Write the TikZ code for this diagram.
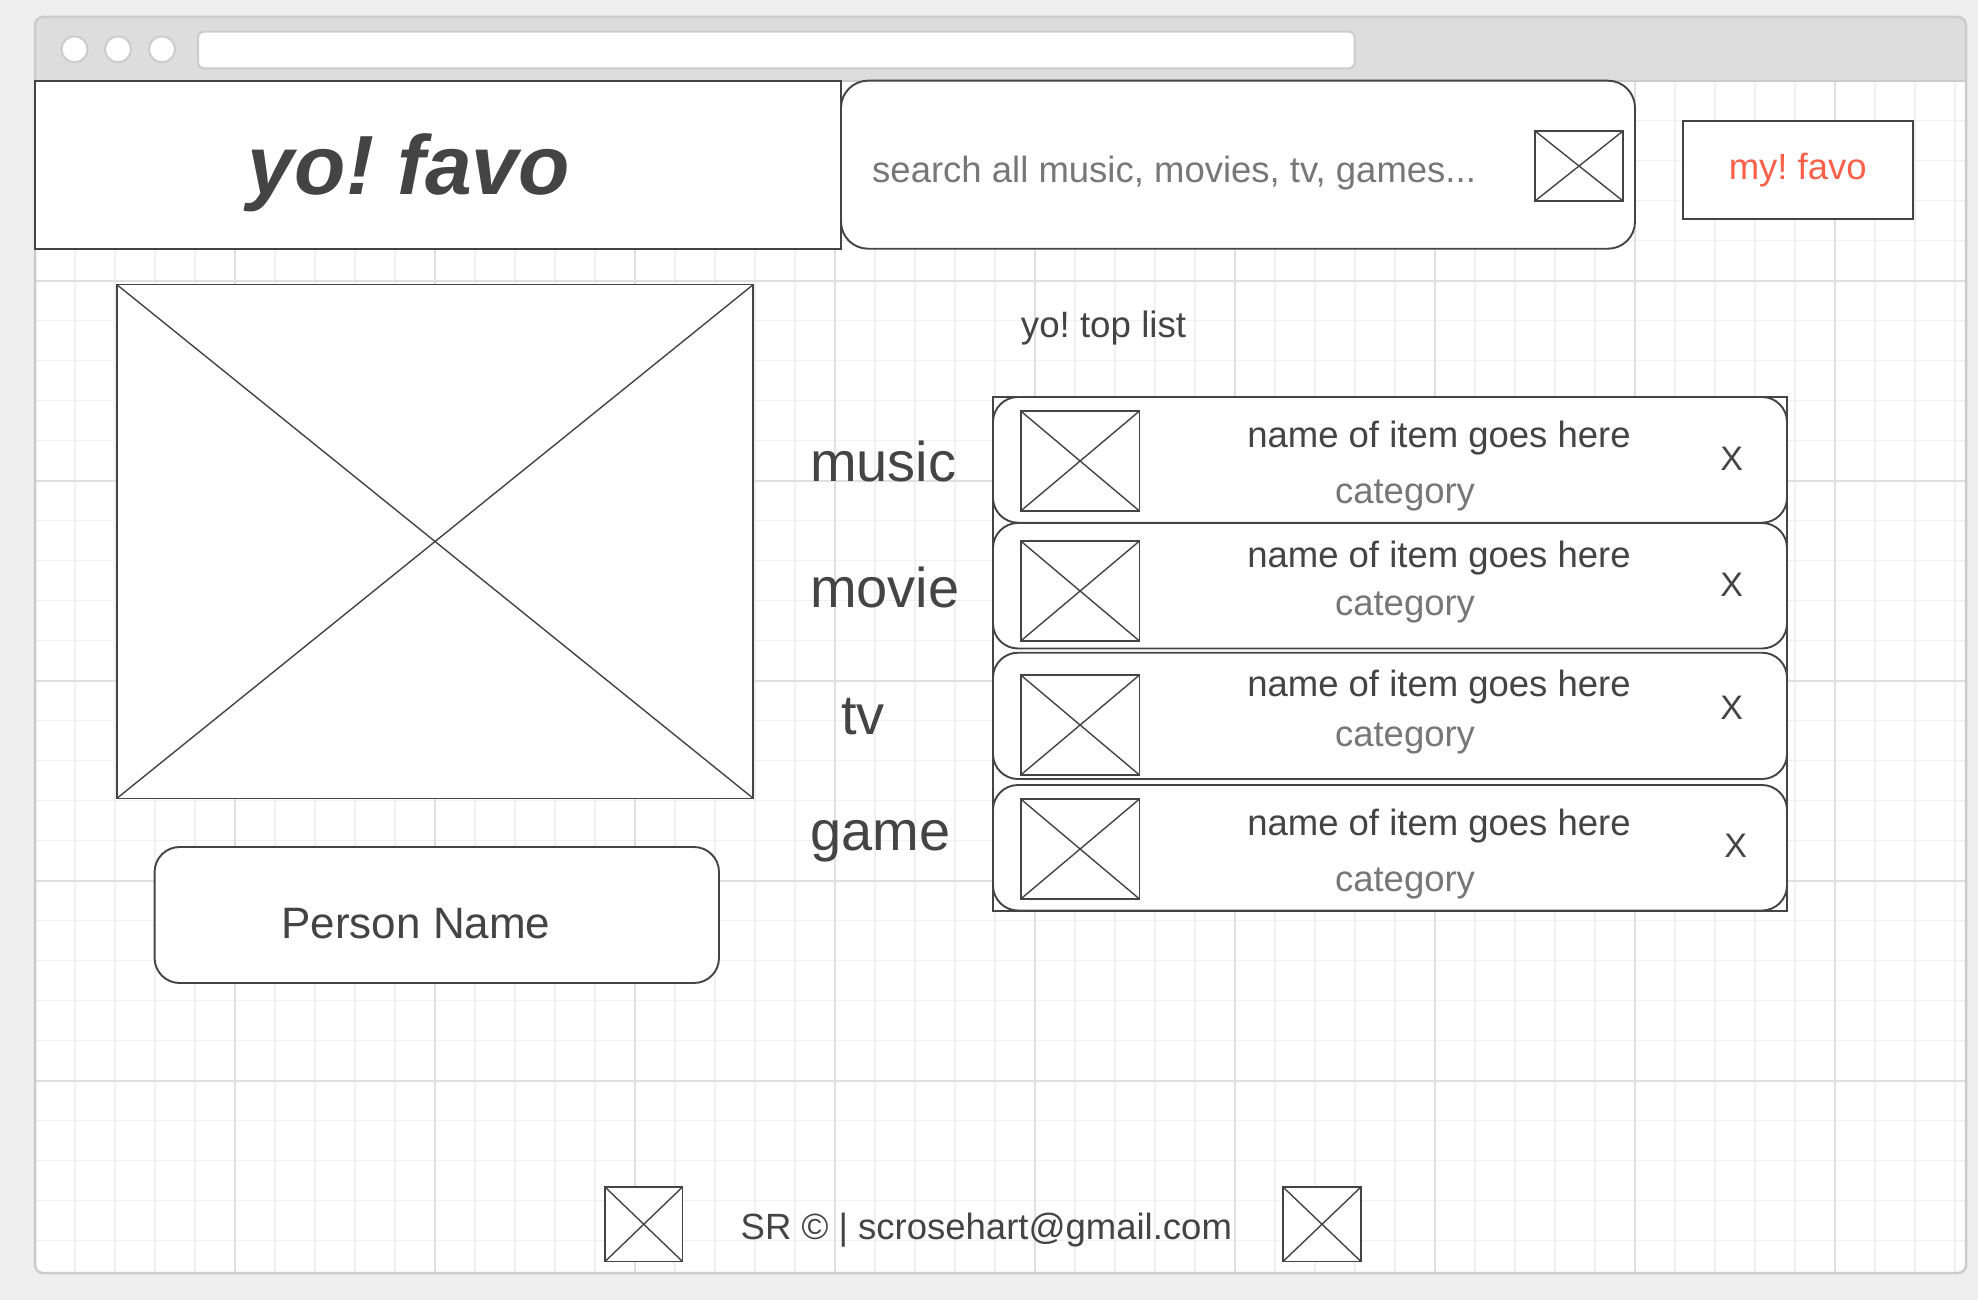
\documentclass[tikz,border=0pt]{standalone}
\usepackage{fontspec}
\setmainfont{Liberation Sans}
\usetikzlibrary{fit}
\definecolor{ink}{HTML}{444444}
\definecolor{greytext}{HTML}{777777}
\definecolor{favored}{RGB}{250,96,74}
\definecolor{pagebg}{HTML}{EEEEEE}
\definecolor{barfill}{HTML}{DDDDDD}
\definecolor{frame}{HTML}{CCCCCC}
\definecolor{gminor}{HTML}{F0F0F0}
\definecolor{gmajor}{HTML}{E0E0E0}
\newcommand\fsz[1]{\fontsize{#1}{#1}\selectfont}
\frenchspacing
\tikzset{
  box/.style={draw=ink, line width=1.9pt, fill=white, inner sep=0pt},
  rbox/.style={box, rounded corners=25pt},
  imgbox/.style={box, path picture={\draw[ink, line width=1.4pt]
      (path picture bounding box.north west) -- (path picture bounding box.south east)
      (path picture bounding box.south west) -- (path picture bounding box.north east);}},
  txt/.style={inner sep=0pt, text=ink},
  body/.style={txt, font=\fsz{36.5}},
  label/.style={txt, anchor=base west, font=\fsz{56}},
  gridminor/.style={draw=gminor, line width=1.5pt},
  gridmajor/.style={draw=gmajor, line width=2pt},
  chrome/.style={draw=frame, line width=2pt, fill=white},
}
\begin{document}
\begin{tikzpicture}[x=1pt,y=-1pt]
\useasboundingbox (0,0) rectangle (1978,1300);
\fill[pagebg] (0,0) rectangle (1978,1300);
% window
\fill[white, rounded corners=8pt] (35,17) rectangle (1966,1273);
\begin{scope}
  \clip (35,80.7) rectangle (1966,1273);
  \foreach \i in {1,...,48} \draw[gridminor] ({35+40*\i},80.7) -- ({35+40*\i},1273);
  \foreach \i in {1,...,29} \draw[gridminor] (35,{80.7+40*\i}) -- (1966,{80.7+40*\i});
  \foreach \i in {1,...,9} \draw[gridmajor] ({35+200*\i},80.7) -- ({35+200*\i},1273);
  \foreach \i in {1,...,5} \draw[gridmajor] (35,{80.7+200*\i}) -- (1966,{80.7+200*\i});
\end{scope}
\fill[barfill] (35,80.7) {[rounded corners=8pt] -- (35,17) -- (1966,17)} -- (1966,80.7) -- cycle;
\draw[frame, line width=2pt] (35,80.7) -- (1966,80.7);
\draw[frame, line width=2.5pt, rounded corners=8pt] (35,17) rectangle (1966,1273);
\foreach \cx [count=\k] in {74.5,118,162}
  \draw[chrome] (\cx,49.3) circle[radius=13];
\node[chrome, rounded corners=6pt, inner sep=0pt, fit={(198,31.7) (1354.7,68.3)}] (address) {};

% header
\node[box, fit={(35,80.7) (841,248.7)}] (header) {};
\node[txt, anchor=base, font=\fsz{84}\bfseries\itshape] (title) at (409,194.3) {yo! favo};
\node[box, rounded corners=27pt, fit={(841,80.7) (1635,248.7)}] (searchbox) {};
\node[txt, anchor=base west, text=greytext, font=\fsz{36.5}] (searchtxt) at (872,182.7) {search all music, movies, tv, games...};
\node[imgbox, fit={(1535,131) (1623,201)}] (searchicon) {};
\node[box, fit={(1682.7,120.7) (1913,219)}] (mybtn) {};
\node[body, anchor=base, text=favored] (mytxt) at (1797.7,180) {my! favo};

% profile
\node[imgbox, fit={(116.7,284.5) (753.4,798.5)}] (photo) {};
\node[rbox, fit={(154.6,847) (719,983)}] (personbox) {};
\node[txt, anchor=base, font=\fsz{44}] (person) at (416,938) {Person Name};

% labels
\node[body, anchor=base west, font=\fsz{36.7}] (toplist) at (1020.7,337.6) {yo! top list};
\node[label] (lmusic) at (810,481) {music};
\node[label] (lmovie) at (810,607.5) {movie};
\node[label] (ltv) at (841,734.3) {tv};
\node[label] (lgame) at (810,850) {game};

% list
\node[box, fit={(993,396.7) (1787.3,911)}] (list) {};
\node[rbox, fit={(993,397) (1787,522.7)}] (row1) {};
\node[rbox, fit={(993,523) (1787,648.5)}] (row2) {};
\node[rbox, fit={(993,652.7) (1787,779)}] (row3) {};
\node[rbox, fit={(993,785) (1787,910.5)}] (row4) {};
\node[imgbox, fit={(1020.7,411) (1139.5,511)}] (img1) {};
\node[imgbox, fit={(1020.7,541) (1139.5,641)}] (img2) {};
\node[imgbox, fit={(1020.7,675) (1139.5,775)}] (img3) {};
\node[imgbox, fit={(1020.7,799) (1139.5,899)}] (img4) {};
\node[body, anchor=base] (name1) at (1439,447.2) {name of item goes here};
\node[body, anchor=base] (name2) at (1439,567.7) {name of item goes here};
\node[body, anchor=base] (name3) at (1439,696.8) {name of item goes here};
\node[body, anchor=base] (name4) at (1439,835.3) {name of item goes here};
\node[body, anchor=base, text=greytext] (cat1) at (1405,503.3) {category};
\node[body, anchor=base, text=greytext] (cat2) at (1405,615.9) {category};
\node[body, anchor=base, text=greytext] (cat3) at (1405,746.8) {category};
\node[body, anchor=base, text=greytext] (cat4) at (1405,891.4) {category};
\node[txt, anchor=base, font=\fsz{34}] (x1) at (1731.7,470) {X};
\node[txt, anchor=base, font=\fsz{34}] (x2) at (1731.7,596) {X};
\node[txt, anchor=base, font=\fsz{34}] (x3) at (1731.7,719.2) {X};
\node[txt, anchor=base, font=\fsz{34}] (x4) at (1735.6,857) {X};

% footer
\node[imgbox, fit={(605,1187) (682.5,1261.5)}] (ficon1) {};
\node[imgbox, fit={(1283,1187) (1361,1261.5)}] (ficon2) {};
\node[body, anchor=base west] (footer) at (740.5,1239.5) {SR © | scrosehart@gmail.com};
\end{tikzpicture}
\end{document}
